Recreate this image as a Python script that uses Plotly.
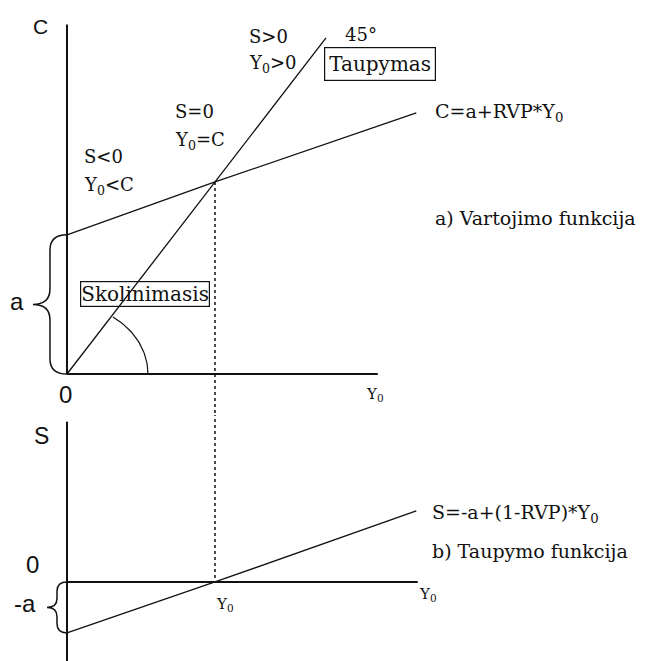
import numpy as np
import plotly.graph_objects as go
from plotly.subplots import make_subplots

# economic model values (arbitrary units)
a = 7.25
Y0 = 10
income = [0, 10, 23.6]
consumption = [7.25, 10, 13.6]
saving = [-7.25, 0, 10.1]
line45_x = [0, 17.5]
line45_y = [0, 17.5]

# axis extents
c_axis_top = 18.2
y_axis_end = 21
s_axis_top = 22.8
s_axis_bottom = -11.3
s_xaxis_end = 23.7

SERIF = "DejaVu Serif"
SANS = "Liberation Sans"
INK = "#111111"

fig = make_subplots(rows=2, cols=1, shared_xaxes=True, vertical_spacing=0)


def seg(x, y, row, width=1.3, dash="solid"):
    fig.add_trace(go.Scatter(x=x, y=y, mode="lines", line=dict(color=INK, width=width, dash=dash),
                             hoverinfo="skip", showlegend=False), row=row, col=1)


# a) consumption panel
seg([0, 0], [0, c_axis_top], 1, width=2)
seg([0, y_axis_end], [0, 0], 1, width=2)
seg(line45_x, line45_y, 1)
seg(income, consumption, 1)
seg([Y0, Y0], [consumption[1], -5], 1, width=1.5, dash="dot")

# angle mark of the 45 degree line
t = np.linspace(0, np.radians(55.4), 30)
seg(5.47 * np.cos(t), 3.6 * np.sin(t), 1, width=1.2)

# b) saving panel
seg([0, 0], [s_axis_bottom, s_axis_top], 2, width=2)
seg([0, s_xaxis_end], [0, 0], 2, width=2)
seg(income, saving, 2)
seg([Y0, Y0], [30, 0], 2, width=1.5, dash="dot")


def brace(x0, yt, yb, depth, r, xr, yr):
    ym = (yt + yb) / 2
    h = x0 - depth / 2
    tip = x0 - depth
    path = (f"M {x0},{yt} Q {h},{yt} {h},{yt - r} L {h},{ym + r} "
            f"Q {h},{ym} {tip},{ym} Q {h},{ym} {h},{ym - r} "
            f"L {h},{yb + r} Q {h},{yb} {x0},{yb}")
    fig.add_shape(type="path", path=path, xref=xr, yref=yr, line=dict(color=INK, width=1.5))


brace(0, a, 0, 2.3, 0.8, "x", "y")
brace(0, 0, -a, 1.35, 1.3, "x2", "y2")


def label(text, x, y, ref=1, size=18, family=SERIF, xanchor="center", **kw):
    xr, yr = ("x", "y") if ref == 1 else ("x2", "y2")
    fig.add_annotation(x=x, y=y, xref=xr, yref=yr, text=text, showarrow=False,
                       xanchor=xanchor, yanchor="middle",
                       font=dict(family=family, size=size, color=INK), **kw)


Ysub = "Y<sub>0</sub>"

# upper panel texts
label("C", -1.82, 18.1, size=21, family=SANS)
label("S&lt;0", 1.0, 11.35, xanchor="left")
label(Ysub + "&lt;C", 1.0, 9.79, xanchor="left")
label("S=0", 7.16, 13.65, xanchor="left")
label(Ysub + "=C", 7.16, 12.14, xanchor="left")
label("S&gt;0", 12.16, 17.6, xanchor="left")
label(Ysub + "&gt;0", 12.16, 16.15, xanchor="left")
label("45°", 19.86, 17.7)
label("Taupymas", 21.15, 16.17, size=20, bordercolor=INK, borderwidth=1.2, borderpad=4)
label("C=a+RVP*" + Ysub, 24.73, consumption[2], size=19, xanchor="left")
label("a) Vartojimo funkcija", 24.73, 8.1, size=19, xanchor="left")
label("Skolinimasis", 5.3, 4.19, size=20, bordercolor=INK, borderwidth=1.2, borderpad=0,
      bgcolor="rgba(255,255,255,0)")
label("a", -3.38, 3.75, size=24, family=SANS)
label("0", -0.07, -1.09, size=24, family=SANS)
label(Ysub, 20.8, -1.09, size=15)

# lower panel texts
label("S", -1.69, 20.77, ref=2, size=23, family=SANS)
label("0", -2.36, 2.42, ref=2, size=24, family=SANS)
label("-a", -2.84, -3.13, ref=2, size=24, family=SANS)
label(Ysub, 10.68, -3.27, ref=2, size=15)
label(Ysub, 24.39, -1.85, ref=2, size=15)
label("S=-a+(1-RVP)*" + Ysub, 24.53, saving[2] - 0.3, ref=2, size=19, xanchor="left")
label("b) Taupymo funkcija", 24.53, 4.41, ref=2, size=19, xanchor="left")

# the page body adds an 8px offset, so the figure is 8px smaller each way
W, H, OFF = 643, 653, 8
split = 1 - (415 - OFF) / H
hidden = dict(visible=False, showgrid=False, zeroline=False, fixedrange=True)
fig.update_layout(
    width=W, height=H, autosize=False,
    margin=dict(l=0, r=0, t=0, b=0),
    paper_bgcolor="white", plot_bgcolor="white",
    showlegend=False,
    xaxis=dict(range=[-3.986, 39.46], domain=[0, 1], **hidden),
    xaxis2=dict(range=[-3.986, 39.46], domain=[0, 1], **hidden),
    yaxis=dict(range=[-2.135, 19.06], domain=[split, 1], **hidden),
    yaxis2=dict(range=[-11.24, 23.75], domain=[0, split], **hidden),
)

fig.write_html("out.html")
